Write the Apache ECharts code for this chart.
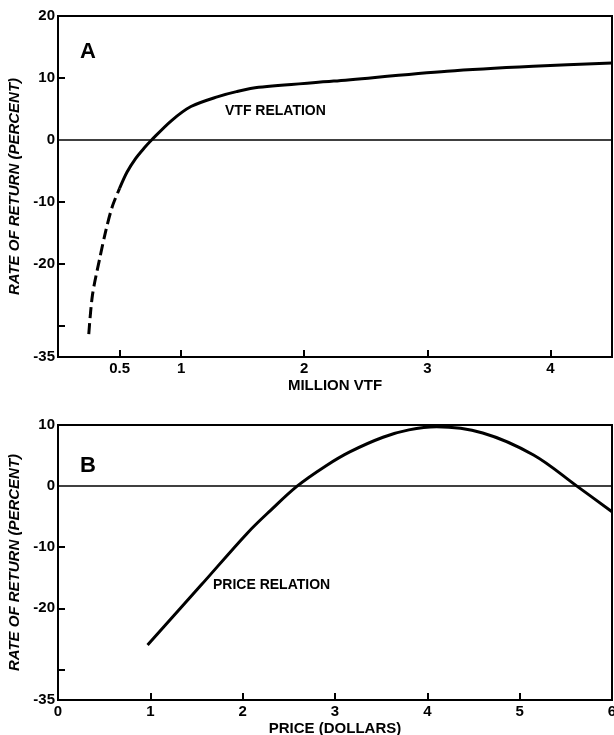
<!DOCTYPE html>
<html>
<head>
<meta charset="utf-8">
<script src="https://cdn.jsdelivr.net/npm/echarts@6/dist/echarts.min.js"></script>
<style>
html,body{margin:0;padding:0;background:#fff;}
#main{width:614px;height:735px;}
</style>
</head>
<body>
<div id="main"></div>
<script>
// Panel A: rate of return vs million VTF
const vtfDashedX = [0.25, 0.28, 0.34, 0.39, 0.44, 0.50];
const vtfDashedY = [-31.3, -25.0, -19.0, -14.5, -10.8, -7.8];
const vtfSolidX = [0.50, 0.56, 0.63, 0.70, 0.76, 0.92, 1.08, 1.30, 1.45, 1.63, 2.24, 3.16, 3.86, 4.50];
const vtfSolidY = [-7.8, -5.2, -3.0, -1.3, 0.0, 3.1, 5.4, 7.0, 7.8, 8.5, 9.5, 11.1, 11.9, 12.4];
// Panel B: rate of return vs price
const priceX = [0.97, 1.55, 2.05, 2.30, 2.59, 2.90, 3.16, 3.52, 3.80, 4.10, 4.60, 5.15, 5.62, 6.00];
const priceY = [-26.0, -16.2, -7.7, -4.0, 0.0, 3.3, 5.6, 8.0, 9.2, 9.7, 8.7, 5.1, 0.0, -4.2];

const aXLabels = [0.5, 1, 2, 3, 4];
const aYLabels = [20, 10, 0, -10, -20, -35];
const aYTicks = [10, -10, -20, -30];
const bXLabels = [0, 1, 2, 3, 4, 5, 6];
const bXTicks = [1, 2, 3, 4, 5];
const bYLabels = [10, 0, -10, -20, -35];
const bYTicks = [-10, -20, -30];

const pairs = (xs, ys) => xs.map((x, i) => [x, ys[i]]);
const FONT = '"Liberation Sans", Arial, sans-serif';
const black = '#000';

function xAxisCfg(grid, min, max, labels, ticks, name) {
  return {
    type: 'value', gridIndex: grid, min: min, max: max,
    name: name, nameLocation: 'middle', nameGap: 21,
    nameTextStyle: {fontFamily: FONT, fontWeight: 'bold', fontSize: 15, color: black},
    axisLine: {show: true, onZero: false, lineStyle: {color: black, width: 2}},
    axisTick: {show: true, inside: true, length: 7, customValues: ticks, lineStyle: {color: black, width: 2}},
    axisLabel: {customValues: labels, fontFamily: FONT, fontWeight: 'bold', fontSize: 15, color: black, margin: 4,
      formatter: v => String(v)},
    splitLine: {show: false}
  };
}
function yAxisCfg(grid, min, max, labels, ticks) {
  return {
    type: 'value', gridIndex: grid, min: min, max: max,
    name: 'RATE OF RETURN (PERCENT)', nameLocation: 'middle', nameGap: 32, nameRotate: 90,
    nameTextStyle: {fontFamily: FONT, fontWeight: 'bold', fontStyle: 'italic', fontSize: 15, color: black},
    axisLine: {show: true, onZero: false, lineStyle: {color: black, width: 2}},
    axisTick: {show: true, inside: true, length: 7, customValues: ticks, lineStyle: {color: black, width: 2}},
    axisLabel: {customValues: labels, fontFamily: FONT, fontWeight: 'bold', fontSize: 15, color: black, margin: 3},
    splitLine: {show: false}
  };
}
const zeroLine = {
  silent: true, symbol: 'none', label: {show: false},
  lineStyle: {color: black, width: 1.5, type: 'solid'},
  data: [{yAxis: 0}]
};
const curveStyle = {color: black, width: 3};

const chart = echarts.init(document.getElementById('main'));
chart.setOption({
  animation: false,
  backgroundColor: '#fff',
  grid: [
    {left: 58, top: 16, width: 554, height: 341, show: true, borderColor: black, borderWidth: 2,
     containLabel: false, outerBoundsMode: 'none'},
    {left: 58, top: 425, width: 554, height: 275, show: true, borderColor: black, borderWidth: 2,
     containLabel: false, outerBoundsMode: 'none'}
  ],
  xAxis: [
    xAxisCfg(0, 0, 4.5, aXLabels, aXLabels, 'MILLION VTF'),
    xAxisCfg(1, 0, 6, bXLabels, bXTicks, 'PRICE (DOLLARS)')
  ],
  yAxis: [
    yAxisCfg(0, -35, 20, aYLabels, aYTicks),
    yAxisCfg(1, -35, 10, bYLabels, bYTicks)
  ],
  series: [
    {type: 'line', xAxisIndex: 0, yAxisIndex: 0, data: pairs(vtfDashedX, vtfDashedY),
     showSymbol: false, smooth: 0.3, lineStyle: {color: black, width: 3, type: [11, 5]}},
    {type: 'line', xAxisIndex: 0, yAxisIndex: 0, data: pairs(vtfSolidX, vtfSolidY),
     showSymbol: false, smooth: 0.3, lineStyle: curveStyle, markLine: zeroLine},
    {type: 'line', xAxisIndex: 1, yAxisIndex: 1, data: pairs(priceX, priceY),
     showSymbol: false, smooth: 0.35, lineStyle: curveStyle, markLine: zeroLine}
  ],
  graphic: [
    {type: 'text', left: 80, top: 41, style: {text: 'A', font: 'bold 22px ' + FONT, fill: black}},
    {type: 'text', left: 80, top: 455, style: {text: 'B', font: 'bold 22px ' + FONT, fill: black}},
    {type: 'text', left: 225, top: 104, style: {text: 'VTF RELATION', font: 'bold 14px ' + FONT, fill: black}},
    {type: 'text', left: 213, top: 578, style: {text: 'PRICE RELATION', font: 'bold 14px ' + FONT, fill: black}}
  ]
});
</script>
</body>
</html>
